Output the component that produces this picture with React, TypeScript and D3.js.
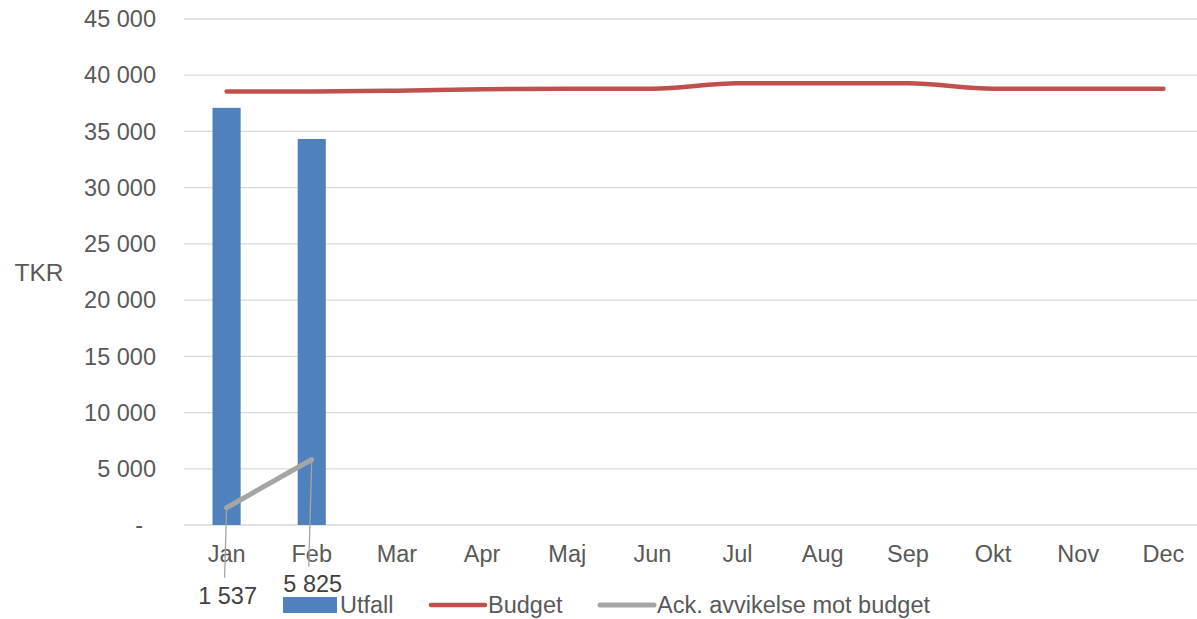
import React from "react";
import * as d3 from "d3";

const months = ["Jan", "Feb", "Mar", "Apr", "Maj", "Jun", "Jul", "Aug", "Sep", "Okt", "Nov", "Dec"];
const utfall: (number | null)[] = [37100, 34330, null, null, null, null, null, null, null, null, null, null];
const budget = [38550, 38550, 38620, 38750, 38800, 38800, 39280, 39280, 39280, 38800, 38800, 38800];
const ackMonths = ["Jan", "Feb"];
const ackAvvikelse = [1537, 5825];
const yTicks = [0, 5000, 10000, 15000, 20000, 25000, 30000, 35000, 40000, 45000];
const legendItems = ["Utfall", "Budget", "Ack. avvikelse mot budget"];

const W = 1197;
const H = 619;
const FONT = "'Liberation Sans', Arial, sans-serif";
const FS = 23.5;
const TEXT = "#595959";
const BLUE = "#4f81bd";
const RED = "#c0504d";
const GRAY = "#a5a5a5";

const fmt = (v: number) => (v === 0 ? "-" : d3.format(",")(v).replace(/,/g, " "));

export default function App() {
  const x = d3.scaleBand<string>().domain(months).range([184, 1206]);
  const y = d3.scaleLinear().domain([0, 45000]).range([525, 19]);
  const bw = x.bandwidth();
  const cx = (m: string) => (x(m) as number) + bw / 2;
  const barW = bw * 0.33;

  const budgetLine = d3
    .line<number>()
    .x((_, i) => cx(months[i]))
    .y((d) => y(d))
    .curve(d3.curveMonotoneX);

  const ackLine = d3
    .line<number>()
    .x((_, i) => cx(ackMonths[i]))
    .y((d) => y(d));

  const labelOffsets = [
    { lx: -2, ly: 70, ty: 88 },
    { lx: -3, ly: 107, ty: 124 },
  ];

  return (
    <div style={{ position: "absolute", left: 0, top: 0 }}>
      <svg width={W} height={H} style={{ display: "block", background: "#fff" }} fontFamily={FONT}>
        {yTicks.map((t) => (
          <g key={t}>
            <line x1={184} x2={W} y1={y(t)} y2={y(t)} stroke="#d9d9d9" strokeWidth={1.3} />
            <text
              x={156}
              dx={t === 0 ? -13 : 0}
              y={y(t)}
              dy="0.35em"
              textAnchor="end"
              fontSize={FS}
              fill={TEXT}
            >
              {fmt(t)}
            </text>
          </g>
        ))}
        <text x={39} y={272} dy="0.35em" textAnchor="middle" fontSize={FS + 1} fill={TEXT}>
          TKR
        </text>
        {months.map((m, i) =>
          utfall[i] == null ? null : (
            <rect
              key={m}
              x={cx(m) - barW / 2}
              y={y(utfall[i] as number)}
              width={barW}
              height={y(0) - y(utfall[i] as number)}
              fill={BLUE}
            />
          )
        )}
        {months.map((m) => (
          <text key={m} x={cx(m)} y={554} dy="0.35em" textAnchor="middle" fontSize={FS} fill={TEXT}>
            {m}
          </text>
        ))}
        <path d={budgetLine(budget) || ""} fill="none" stroke={RED} strokeWidth={4.5} strokeLinecap="round" />
        <path d={ackLine(ackAvvikelse) || ""} fill="none" stroke={GRAY} strokeWidth={5} strokeLinecap="round" />
        {ackAvvikelse.map((v, i) => {
          const px = cx(ackMonths[i]);
          const py = y(v);
          const o = labelOffsets[i];
          return (
            <g key={i}>
              <line x1={px} y1={py} x2={px + o.lx} y2={py + o.ly} stroke={GRAY} strokeWidth={1.3} />
              <text x={px + 1} y={py + o.ty} dy="0.35em" textAnchor="middle" fontSize={FS} fill="#404040">
                {fmt(v)}
              </text>
            </g>
          );
        })}
        <g>
          <rect x={283} y={597} width={54} height={16} fill={BLUE} />
          <text x={340} y={605} dy="0.35em" fontSize={FS} fill={TEXT}>
            {legendItems[0]}
          </text>
          <line x1={431} x2={485} y1={605} y2={605} stroke={RED} strokeWidth={4.5} strokeLinecap="round" />
          <text x={488} y={605} dy="0.35em" fontSize={FS} fill={TEXT}>
            {legendItems[1]}
          </text>
          <line x1={600} x2={654} y1={605} y2={605} stroke={GRAY} strokeWidth={5} strokeLinecap="round" />
          <text x={657} y={605} dy="0.35em" fontSize={FS} fill={TEXT}>
            {legendItems[2]}
          </text>
        </g>
      </svg>
    </div>
  );
}
